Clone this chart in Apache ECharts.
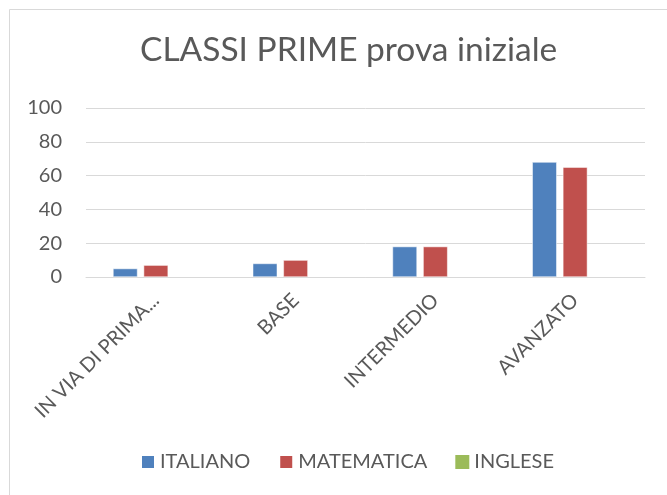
<!DOCTYPE html>
<html style="height: 100%">
<head>
    <meta charset="utf-8">
    <title>CLASSI PRIME prova iniziale</title>
    <script src="https://cdn.jsdelivr.net/npm/echarts@6/dist/echarts.min.js"></script>
</head>
<body style="height: 100%; margin: 0; background: #fff">
<div id="main" style="width: 667px; height: 495px"></div>

<script type="text/javascript">
    // dati
    var livelli = ['IN VIA DI PRIMA...', 'BASE', 'INTERMEDIO', 'AVANZATO'];
    var italiano = [5, 8, 18, 68];
    var matematica = [7, 10, 18, 65];
    var inglese = [0, 0, 0, 0];
    var yTicks = [0, 20, 40, 60, 80, 100];

    var font = 'Lato';
    var grigio = '#595959';

    var myChart = echarts.init(document.getElementById('main'));

    var option = {
        animation: false,
        backgroundColor: '#fff',
        color: ['#4f81bd', '#c0504d', '#9bbb59'],
        graphic: [{
            type: 'rect',
            shape: {x: 9.5, y: 9.5, width: 700, height: 520},
            style: {fill: 'none', stroke: '#d9d9d9', lineWidth: 1}
        }],
        title: {
            text: 'CLASSI PRIME prova iniziale',
            left: 135,
            top: 28,
            textStyle: {fontFamily: font, fontSize: 33.5, fontWeight: 'normal', color: grigio}
        },
        legend: {
            bottom: 18,
            left: 135,
            itemWidth: 14,
            itemHeight: 14,
            itemGap: 28,
            icon: 'rect',
            textStyle: {fontFamily: font, fontSize: 20, color: grigio}
        },
        grid: {left: 86, right: 22, top: 108, bottom: 218},
        xAxis: {
            type: 'category',
            data: livelli,
            axisLine: {lineStyle: {color: '#d9d9d9'}},
            axisTick: {show: false},
            axisLabel: {
                rotate: 45,
                interval: 0,
                margin: 20,
                fontFamily: font,
                fontSize: 20,
                color: grigio
            }
        },
        yAxis: {
            type: 'value',
            min: yTicks[0],
            max: yTicks[yTicks.length - 1],
            interval: 20,
            axisLine: {show: false},
            axisTick: {show: false},
            splitLine: {lineStyle: {color: '#d9d9d9'}},
            axisLabel: {fontFamily: font, fontSize: 20, color: grigio, margin: 24}
        },
        series: [
            {name: 'ITALIANO', type: 'bar', data: italiano, barWidth: 24.5, barGap: '25%',
             itemStyle: {borderColor: '#fff', borderWidth: 0.5}},
            {name: 'MATEMATICA', type: 'bar', data: matematica, barWidth: 24.5, barGap: '25%',
             itemStyle: {borderColor: '#fff', borderWidth: 0.5}},
            {name: 'INGLESE', type: 'bar', data: inglese, barWidth: 24.5, barGap: '25%'}
        ]
    };
    myChart.setOption(option, true);
</script>
</body>
</html>
